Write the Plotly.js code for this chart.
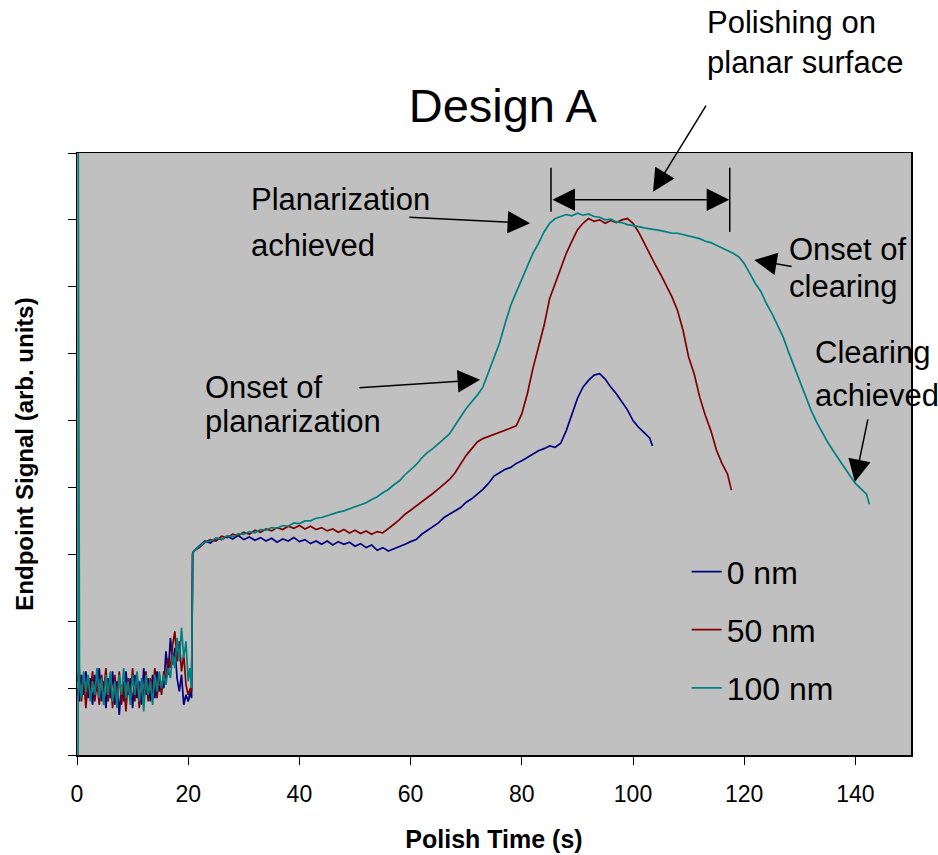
<!DOCTYPE html>
<html>
<head>
<meta charset="utf-8">
<script src="https://cdn.plot.ly/plotly-3.0.1.min.js"></script>
<style>
  html, body { margin: 0; padding: 0; background: #ffffff; }
  #chart { width: 938px; height: 855px; }
</style>
</head>
<body>
<div id="chart"></div>
<script>
// ---- Data (Polish Time in s, Endpoint Signal in arb. units) ----
var series0nmTime = [0,0.4,0.8,1.2,1.6,2.0,2.4,2.8,3.2,3.6,4.0,4.4,4.8,5.2,5.6,6.0,6.4,6.8,7.2,7.6,8.0,8.4,8.8,9.2,9.6,10.0,10.4,10.8,11.2,11.6,
  12.0,12.4,12.8,13.2,13.6,14.0,14.4,14.8,15.2,15.6,16.0,16.4,16.8,17.2,17.6,18.0,18.4,18.8,19.2,19.6,20.0,20.4,20.6,20.8,
  21,22,23,24,25,26,27,28,29,30,31,32,33,34,35,36,37,38,39,40,41,42,43,44,45,46,47,48,49,50,51,52,53,54,55,56,57,58,59,60,
  61,62,63,64,65,66,67,68,69,70,71,72,73,74,75,76,77,78,79,80,81,82,83,84,85,86,87,88,89,90,91,92,93,94,95,96,97,98,99,100,101,102,103,103.5];
var series0nmSignal = [1.0,0.8,1.2,0.9,1.25,0.85,1.15,0.75,1.2,0.95,1.3,0.8,1.1,0.7,1.15,0.85,1.25,0.75,1.1,0.6,1.05,0.8,1.25,0.9,1.15,0.7,1.2,0.85,1.1,0.75,
  1.3,0.9,1.15,0.8,1.2,0.85,1.25,0.95,1.1,1.0,1.55,1.2,1.75,1.35,1.6,1.15,0.95,1.2,0.75,0.9,0.8,0.95,0.85,3.02,
  3.05,3.12,3.2,3.17,3.24,3.22,3.27,3.23,3.28,3.22,3.26,3.21,3.25,3.2,3.24,3.18,3.23,3.2,3.25,3.19,3.22,3.16,3.2,3.15,3.2,3.14,3.19,3.15,3.18,3.12,3.16,3.1,3.14,3.06,3.1,3.05,3.08,3.12,3.15,3.19,
  3.22,3.3,3.36,3.42,3.47,3.55,3.6,3.66,3.7,3.78,3.83,3.9,3.97,4.06,4.17,4.22,4.27,4.3,4.36,4.4,4.45,4.5,4.55,4.58,4.62,4.6,4.66,4.85,5.1,5.33,5.5,5.6,5.68,5.7,5.62,5.5,5.4,5.28,5.16,5.0,4.9,4.82,4.74,4.62];

var series50nmTime = [0,0.4,0.8,1.2,1.6,2.0,2.4,2.8,3.2,3.6,4.0,4.4,4.8,5.2,5.6,6.0,6.4,6.8,7.2,7.6,8.0,8.4,8.8,9.2,9.6,10.0,10.4,10.8,11.2,11.6,
  12.0,12.4,12.8,13.2,13.6,14.0,14.4,14.8,15.2,15.6,16.0,16.4,16.8,17.2,17.6,18.0,18.4,18.8,19.2,19.6,20.0,20.4,20.6,20.8,
  21,22,23,24,25,26,27,28,29,30,31,32,33,34,35,36,37,38,39,40,41,42,43,44,45,46,47,48,49,50,51,52,53,54,55,56,57,58,59,60,
  61,62,63,64,65,66,67,68,69,70,71,72,73,74,75,76,77,78,79,80,81,82,83,84,85,86,87,88,89,90,91,92,93,94,95,96,97,98,99,100,
  101,102,103,104,105,106,107,108,109,110,111,112,113,114,115,116,117,117.7];
var series50nmSignal = [1.1,1.3,0.8,1.2,0.7,1.15,0.9,1.25,0.8,1.1,0.75,1.2,0.95,1.3,0.8,1.15,0.7,1.2,0.85,1.25,0.75,1.1,0.65,1.15,0.85,1.3,0.8,1.2,0.7,1.1,
  0.85,1.25,0.8,1.15,0.9,1.3,0.85,1.2,0.9,1.25,1.1,1.45,1.3,1.65,1.85,1.4,1.7,1.25,1.5,1.05,0.9,1.0,0.95,3.0,
  3.05,3.1,3.18,3.22,3.2,3.27,3.25,3.3,3.28,3.33,3.3,3.36,3.33,3.38,3.35,3.4,3.37,3.42,3.39,3.43,3.38,3.42,3.37,3.4,3.35,3.38,3.33,3.37,3.32,3.36,3.31,3.35,3.3,3.34,3.32,3.38,3.45,3.52,3.6,3.66,
  3.72,3.78,3.85,3.91,3.98,4.05,4.12,4.22,4.35,4.48,4.58,4.68,4.73,4.76,4.8,4.82,4.85,4.88,4.92,5.1,5.4,5.78,6.1,6.42,6.82,7.05,7.3,7.5,7.68,7.85,7.95,8.02,7.98,8.0,7.95,7.99,7.96,8.0,8.02,7.95,
  7.82,7.65,7.5,7.33,7.18,7.02,6.85,6.65,6.35,5.95,5.7,5.35,5.08,4.85,4.56,4.36,4.2,3.96];

var series100nmTime = [0.2,0.22,0.45,0.8,1.2,1.6,2.0,2.4,2.8,3.2,3.6,4.0,4.4,4.8,5.2,5.6,6.0,6.4,6.8,7.2,7.6,8.0,8.4,8.8,9.2,9.6,10.0,10.4,10.8,11.2,11.6,
  12.0,12.4,12.8,13.2,13.6,14.0,14.4,14.8,15.2,15.6,16.0,16.4,16.8,17.2,17.6,18.0,18.4,18.8,19.2,19.6,20.0,20.3,20.6,20.8,
  21,22,23,24,25,26,27,28,29,30,31,32,33,34,35,36,37,38,39,40,41,42,43,44,45,46,47,48,49,50,51,52,53,54,55,56,57,58,59,60,
  61,62,63,64,65,66,67,68,69,70,71,72,73,74,75,76,77,78,79,80,81,82,83,84,85,86,87,88,89,90,91,92,93,94,95,96,97,98,99,100,
  101,102,103,104,105,106,107,108,109,110,111,112,113,114,115,116,117,118,119,120,121,122,123,124,125,126,127,128,129,130,
  131,132,133,134,135,136,137,138,139,140,141,142,142.5];
var series100nmSignal = [0,9.3,1.1,0.85,1.25,0.95,1.2,0.8,1.1,0.9,1.3,0.85,1.15,0.75,1.2,0.9,1.25,0.8,1.1,0.7,1.2,0.9,1.3,0.85,1.1,0.75,1.2,0.9,1.25,0.8,1.15,
  0.65,1.2,0.9,1.1,0.75,1.2,0.95,1.25,1.0,1.2,1.05,1.3,1.15,1.5,1.3,1.75,1.4,1.9,1.45,1.7,1.1,1.3,1.0,3.0,
  3.05,3.12,3.18,3.2,3.24,3.22,3.28,3.26,3.31,3.3,3.34,3.32,3.37,3.36,3.4,3.39,3.43,3.42,3.47,3.46,3.5,3.5,3.54,3.55,3.58,3.6,3.63,3.65,3.68,3.7,3.74,3.77,3.82,3.86,3.92,3.97,4.04,4.1,4.19,4.26,
  4.34,4.44,4.52,4.58,4.65,4.72,4.8,4.93,5.06,5.18,5.28,5.38,5.5,5.72,5.95,6.16,6.45,6.72,6.92,7.12,7.32,7.5,7.65,7.82,7.95,8.02,8.05,8.08,8.06,8.1,8.07,8.09,8.05,8.04,8.0,8.01,7.97,7.96,7.93,7.92,
  7.9,7.88,7.87,7.85,7.84,7.82,7.8,7.8,7.78,7.77,7.74,7.72,7.68,7.66,7.62,7.58,7.55,7.5,7.45,7.35,7.2,7.05,6.93,6.75,6.6,6.42,6.25,6.02,5.8,5.6,
  5.38,5.16,4.98,4.82,4.68,4.55,4.42,4.3,4.18,4.06,3.98,3.9,3.75];

var seriesNames = ['0 nm', '50 nm', '100 nm'];
var seriesColors = ['#000080', '#800000', '#008080'];
var xTickValues = [0, 20, 40, 60, 80, 100, 120, 140];

var FONT = 'Liberation Sans, Arial, Helvetica, sans-serif';

var traces = [
  {x: series0nmTime, y: series0nmSignal, name: seriesNames[0], legendgroup: 'g0'},
  {x: series50nmTime, y: series50nmSignal, name: seriesNames[1], legendgroup: 'g1'},
  {x: series100nmTime, y: series100nmSignal, name: seriesNames[2], legendgroup: 'g2'}
].map(function (t, i) {
  t.type = 'scatter';
  t.mode = 'lines';
  t.line = {color: seriesColors[i], width: 1.7};
  t.hoverinfo = 'skip';
  return t;
});

function label(txt, x, y, ref) {
  return {text: txt, x: x, y: y, xref: ref || 'x', yref: ref || 'y', xanchor: 'left', yanchor: 'middle',
          showarrow: false, font: {family: FONT, size: 31, color: '#000000'}};
}
function arrow(tailX, tailY, tipX, tipY, both) {
  var a = {text: '', x: tipX, y: tipY, ax: tailX, ay: tailY, xref: 'x', yref: 'y', axref: 'x', ayref: 'y',
           showarrow: true, arrowhead: 2, arrowsize: 3, arrowwidth: 1.5, arrowcolor: '#000000', standoff: 0};
  if (both) { a.arrowside = 'end+start'; a.startarrowhead = 2; a.startarrowsize = 3; a.startstandoff = 0; }
  return a;
}

var annotations = [
  label('Planarization', 30.9, 8.31),
  label('achieved', 30.9, 7.62),
  label('Onset of', 22.7, 5.50),
  label('planarization', 22.7, 4.98),
  label('Polishing on', 0.753, 1.216, 'paper'),
  label('planar surface', 0.753, 1.151, 'paper'),
  label('Onset of', 127.7, 7.55),
  label('clearing', 127.7, 7.01),
  label('Clearing', 132.4, 6.02),
  label('achieved', 132.4, 5.37),
  arrow(59.5, 8.04, 81.5, 7.95),
  arrow(50.5, 5.49, 72.5, 5.61),
  arrow(113.3, 9.73, 103.6, 8.42),
  arrow(85.25, 8.30, 117.3, 8.30, true),
  arrow(128.8, 7.30, 121.8, 7.40),
  arrow(142.3, 5.04, 139.9, 4.08)
];

var shapes = [
  {type: 'line', xref: 'x', yref: 'y', x0: 85.25, x1: 85.25, y0: 8.12, y1: 8.78, line: {color: '#000000', width: 1.5}},
  {type: 'line', xref: 'x', yref: 'y', x0: 117.4, x1: 117.4, y0: 7.82, y1: 8.78, line: {color: '#000000', width: 1.5}}
];

var layout = {
  width: 938, height: 855,
  margin: {l: 77, r: 27, t: 153, b: 100},
  paper_bgcolor: '#ffffff',
  plot_bgcolor: '#c0c0c0',
  font: {family: FONT, color: '#000000'},
  title: {text: 'Design A', x: 0.536, xref: 'container', xanchor: 'center', y: 0.876, yref: 'container', yanchor: 'middle',
          font: {family: FONT, size: 47, color: '#000000'}},
  xaxis: {
    range: [0, 150], tickvals: xTickValues, ticktext: xTickValues.map(String),
    showgrid: false, zeroline: false, showline: true, linecolor: '#000000', linewidth: 1.5, mirror: true,
    ticks: 'outside', ticklen: 8, tickwidth: 1, tickcolor: '#000000',
    tickfont: {family: FONT, size: 23, color: '#000000'}, ticklabelstandoff: 10,
    title: {text: 'Polish Time (s)', standoff: 24, font: {family: FONT, size: 25, weight: 'bold', color: '#000000'}}
  },
  yaxis: {
    range: [0, 9], dtick: 1, tick0: 0, showticklabels: false, layer: 'below traces',
    showgrid: false, zeroline: false, showline: true, linecolor: '#000000', linewidth: 1.5, mirror: true,
    ticks: 'outside', ticklen: 8, tickwidth: 1, tickcolor: '#000000',
    title: {text: 'Endpoint Signal (arb. units)', standoff: 27, font: {family: FONT, size: 24, weight: 'bold', color: '#000000'}}
  },
  showlegend: true,
  legend: {x: 0.731, xanchor: 'left', y: 0.35, yanchor: 'top', bgcolor: 'rgba(0,0,0,0)', borderwidth: 0,
           traceorder: 'grouped', tracegroupgap: 13.5, font: {family: FONT, size: 32, color: '#000000'}},
  annotations: annotations,
  shapes: shapes
};

Plotly.newPlot('chart', traces, layout, {displayModeBar: false, staticPlot: true});
</script>
</body>
</html>
